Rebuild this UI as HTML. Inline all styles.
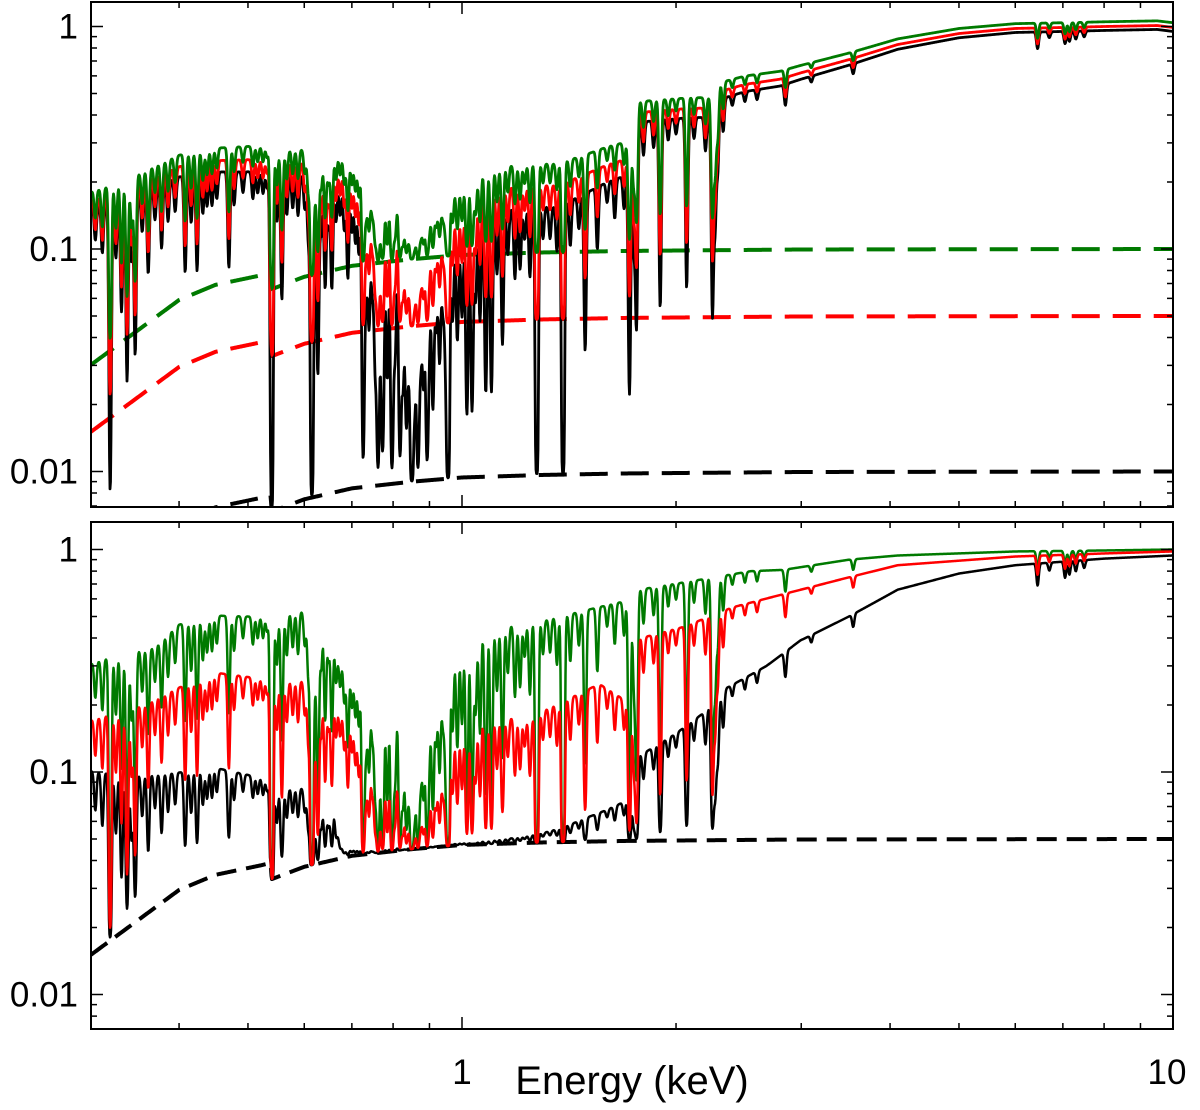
<!DOCTYPE html>
<html><head><meta charset="utf-8"><style>
html,body{margin:0;padding:0;background:#fff;}
svg{display:block;font-family:"Liberation Sans",sans-serif;}
</style></head><body>
<svg id="chart" width="1200" height="1110" viewBox="0 0 1200 1110" xmlns="http://www.w3.org/2000/svg">
<defs>
<clipPath id="clipTop"><rect x="91" y="2" width="1082" height="505"/></clipPath>
<clipPath id="clipBot"><rect x="91" y="522" width="1082" height="507"/></clipPath>
</defs>
<g id="topPanel"></g>
<g id="botPanel"></g>
<g id="axes"></g>
<text x="632" y="1094" font-size="40" text-anchor="middle">Energy (keV)</text>
</svg>
<script>
// ---- data ----
const lineE = [0.305,0.312,0.320,0.326,0.332,0.338,0.343,0.347,0.355,0.362,0.370,0.378,0.386,0.395,0.408,0.416,0.424,0.432,0.438,0.445,0.452,0.470,0.478,0.492,0.508,0.516,0.525,0.532,0.540,0.549,0.558,0.567,0.578,0.588,0.601,0.608,0.615,0.621,0.627,0.634,0.642,0.649,0.656,0.665,0.674,0.683,0.691,0.700,0.708,0.716,
0.726,0.733,0.740,0.748,0.755,0.762,0.770,0.774,0.785,0.797,0.805,0.818,0.826,0.835,0.842,0.850,0.858,0.867,0.875,0.883,0.893,0.900,0.910,0.920,0.930,0.940,0.948,0.956,0.970,0.985,1.0,1.016,1.033,1.045,1.06,1.08,1.10,1.12,1.14,1.16,1.187,1.207,1.225,1.246,1.274,1.30,1.33,1.36,1.387,1.42,1.46,1.49,1.55,1.60,1.64,1.69,1.72,1.745,1.76,1.80,1.86,1.90,1.95,2.0,2.07,2.12,2.20,2.25,2.27,2.29,2.33,2.40,2.50,2.60,2.85,3.1,3.55,6.45,6.7,7.05,7.15,7.3,7.5];
const lineDepth = [0.3,0.4,0.97,0.45,0.7,0.87,0.5,0.83,0.35,0.6,0.3,0.5,0.35,0.3,0.65,0.4,0.65,0.35,0.3,0.3,0.25,0.65,0.3,0.2,0.25,0.2,0.2,0.15,0.995,0.4,0.75,0.35,0.3,0.35,0.3,0.5,0.995,0.5,0.9,0.45,0.7,0.4,0.7,0.35,0.3,0.4,0.65,0.4,0.45,0.5,
0.98,0.6,0.7,0.5,0.8,0.98,0.7,0.93,0.8,0.98,0.7,0.96,0.8,0.9,0.7,0.99,0.85,0.98,0.7,0.8,0.97,0.6,0.88,0.6,0.75,0.5,0.7,0.995,0.6,0.7,0.6,0.92,0.92,0.6,0.7,0.9,0.9,0.5,0.8,0.4,0.55,0.5,0.3,0.55,0.995,0.3,0.3,0.4,0.995,0.4,0.3,0.85,0.5,0.2,0.35,0.3,0.94,0.6,0.9,0.3,0.25,0.88,0.2,0.15,0.85,0.2,0.3,0.89,0.7,0.5,0.3,0.1,0.1,0.1,0.2,0.06,0.1,0.16,0.06,0.12,0.1,0.08,0.06];

const floorE = [0.30,0.40,0.45,0.52,0.538,0.540,0.60,0.70,0.85,1.0,1.3,1.7,3.0,10.0];
const floorShape = [0.30,0.59,0.69,0.76,0.78,0.66,0.75,0.84,0.90,0.94,0.965,0.98,0.995,1.0];
const topFloorLevel = [0.01,0.05,0.1]; // black, red, green

const topContE = [0.30,0.33,0.36,0.40,0.45,0.50,0.55,0.60,0.65,0.70,0.72,0.74,0.77,0.82,0.87,0.92,0.97,1.0,1.05,1.15,1.25,1.35,1.45,1.6,1.74,1.76,1.9,2.1,2.25,2.3,2.5,2.8,3.0,3.5,4.1,5.0,6.0,7.0,8.0,9.5,10.0];
const topContV = [0.15,0.16,0.18,0.205,0.215,0.215,0.21,0.205,0.195,0.185,0.17,0.12,0.09,0.075,0.075,0.085,0.095,0.1,0.125,0.14,0.145,0.145,0.16,0.19,0.21,0.36,0.37,0.38,0.38,0.46,0.5,0.53,0.57,0.66,0.78,0.88,0.93,0.94,0.95,0.96,0.94];

const botBlackE = [0.30,0.35,0.40,0.45,0.50,0.56,0.60,0.66,0.68,0.9,1.0,1.26,1.48,1.71,1.76,1.78,2.0,2.21,2.36,2.68,2.99,3.5,4.1,5.0,6.0,8.0,10.0];
const botBlackV = [0.086,0.075,0.07,0.07,0.06,0.05,0.047,0.033,0.004,0.001,0.001,0.004,0.013,0.026,0.028,0.07,0.1,0.14,0.19,0.25,0.34,0.45,0.61,0.73,0.80,0.86,0.89];
const botRedE = [0.30,0.36,0.40,0.45,0.52,0.58,0.65,0.67,0.70,0.74,0.80,0.87,0.93,0.97,1.05,1.25,1.3,1.56,1.70,1.76,1.78,2.05,2.4,2.83,3.5,4.1,6.0,8.0,10.0];
const botRedV = [0.155,0.18,0.21,0.245,0.225,0.22,0.215,0.16,0.15,0.09,0.06,0.05,0.07,0.10,0.13,0.125,0.14,0.2,0.16,0.17,0.35,0.40,0.5,0.58,0.70,0.80,0.88,0.91,0.93];
const botGreenE = [0.30,0.32,0.37,0.40,0.45,0.52,0.60,0.65,0.67,0.72,0.78,0.85,0.90,0.97,1.05,1.3,1.55,1.75,1.77,2.15,2.55,2.83,3.5,4.1,6.0,8.0,10.0];
const botGreenV = [0.29,0.31,0.34,0.43,0.47,0.46,0.49,0.49,0.30,0.25,0.18,0.14,0.22,0.29,0.38,0.43,0.50,0.55,0.61,0.68,0.75,0.76,0.85,0.89,0.93,0.94,0.95];
const botLinePower = [1.4,1.2,1.1]; // black, red, green
const botFloorLevel = [0.05];

const yTickLabels = ["1","0.1","0.01"];
const yTickValues = [1,0.1,0.01];
const xTickLabels = ["1","10"];
const xTickValues = [1,10];

// ---- axes functions ----
const X0 = 91, X1 = 1173;
const xScale = E => 462 + 711*Math.log10(E);
const xInv = x => Math.pow(10,(x-462)/711);
const yTop = v => 249 - 222.5*(Math.log10(v)+1);
const yBot = v => 772 - 222.5*(Math.log10(v)+1);

function interp(es, vs, E){
  const l = Math.log10(E);
  if (E <= es[0]) { const a=Math.log10(es[0]),b=Math.log10(es[1]),va=Math.log10(vs[0]),vb=Math.log10(vs[1]); return Math.pow(10, va+(vb-va)*(l-a)/(b-a)); }
  for (let i=0;i<es.length-1;i++){
    if (E <= es[i+1]) {
      const a=Math.log10(es[i]),b=Math.log10(es[i+1]),va=Math.log10(vs[i]),vb=Math.log10(vs[i+1]);
      return Math.pow(10, va+(vb-va)*(l-a)/(b-a));
    }
  }
  return vs[vs.length-1];
}
const SIG = 0.0016;
function trans(E){
  const l = Math.log10(E);
  let tau = 0;
  for (let i=0;i<lineE.length;i++){
    const d = (l - Math.log10(lineE[i]))/SIG;
    if (Math.abs(d) > 6) continue;
    const dep = lineDepth[i];
    const t = dep >= 0.99 ? 7 : -Math.log(1-dep);
    tau += t*Math.exp(-0.5*d*d);
  }
  return Math.exp(-tau);
}

const NS = "http://www.w3.org/2000/svg";
const topG = document.getElementById('topPanel');
const botG = document.getElementById('botPanel');
const axG = document.getElementById('axes');

const samples = [];
for (let x=X0; x<=X1; x+=0.5) { const E = xInv(x); samples.push([E, trans(E)]); }

function pathFrom(fn, yf){
  let d = '';
  samples.forEach((s,i)=>{ const v = Math.max(fn(s[0],s[1]),1e-4); d += (i?'L':'M') + xScale(s[0]).toFixed(2) + ' ' + yf(v).toFixed(2); });
  return d;
}
function addPath(parent, d, color, w, dash, clip, name){
  const p = document.createElementNS(NS,'path');
  p.setAttribute('d', d); p.setAttribute('fill','none'); p.setAttribute('stroke',color);
  p.setAttribute('stroke-width', w); p.setAttribute('stroke-linejoin','round');
  if (dash) p.setAttribute('stroke-dasharray', dash);
  p.setAttribute('clip-path', clip);
  
  
  parent.appendChild(p);
}
const colors = ['#000000','#ff0000','#007a00'];
const names = ['black','red','green'];

for (let s=0;s<3;s++){
  addPath(topG, pathFrom((E)=>topFloorLevel[s]*interp(floorE,floorShape,E), yTop), colors[s], 4, '28 13', 'url(#clipTop)', 'top-floor-'+names[s]);
}
for (let s=0;s<3;s++){
  addPath(topG, pathFrom((E,T)=>interp(topContE,topContV,E)*T + topFloorLevel[s]*interp(floorE,floorShape,E), yTop), colors[s], 2.8, null, 'url(#clipTop)', 'top-spectrum-'+names[s]);
}
addPath(botG, pathFrom((E)=>botFloorLevel[0]*interp(floorE,floorShape,E), yBot), '#000', 4, '20 10', 'url(#clipBot)', 'bottom-floor-black');
const botSets = [[botBlackE,botBlackV,0],[botGreenE,botGreenV,2],[botRedE,botRedV,1]];
botSets.forEach(([es,vs,s])=>{
  addPath(botG, pathFrom((E,T)=>interp(es,vs,E)*Math.pow(T,botLinePower[s]) + botFloorLevel[0]*interp(floorE,floorShape,E), yBot), colors[s], 2.5, null, 'url(#clipBot)', 'bottom-spectrum-'+names[s]);
});

function el(tag, attrs, parent){ const e=document.createElementNS(NS,tag); for (const k in attrs) e.setAttribute(k,attrs[k]); parent.appendChild(e); return e; }
const panels = [{y0:2,y1:507,yf:yTop,name:'top'},{y0:522,y1:1029,yf:yBot,name:'bottom'}];
panels.forEach(P=>{
  const r = el('rect',{x:X0,y:P.y0,width:X1-X0,height:P.y1-P.y0,fill:'none',stroke:'#000','stroke-width':2}, axG);
  
  
  let d='';
  for (let dec=-3; dec<=0; dec++){
    for (let m=1;m<=9;m++){
      const v = m*Math.pow(10,dec); const y = P.yf(v);
      if (y < P.y0+1 || y > P.y1-1) continue;
      const L = m===1?12:6;
      d += `M${X0} ${y}h${L}M${X1} ${y}h${-L}`;
    }
  }
  for (let dec=-1; dec<=1; dec++){
    for (let m=1;m<=9;m++){
      const E = m*Math.pow(10,dec); const x = xScale(E);
      if (x < X0+1 || x > X1-1) continue;
      const L = m===1?12:6;
      d += `M${x} ${P.y0}v${L}M${x} ${P.y1}v${-L}`;
    }
  }
  const t = el('path',{d:d,stroke:'#000','stroke-width':1.5,fill:'none'},axG);
  
  
  yTickLabels.forEach((lab,i)=>{
    const tx = el('text',{x:78,y:P.yf(yTickValues[i])+12,'font-size':35,'text-anchor':'end'},axG);
    tx.textContent = lab;
    
    
  });
});
xTickLabels.forEach((lab,i)=>{
  const tx = el('text',{x:xScale(xTickValues[i]) - (i===1?6:0),y:1084,'font-size':35,'text-anchor':'middle'},axG);
  tx.textContent = lab;
  
  
});
</script>
</body></html>
